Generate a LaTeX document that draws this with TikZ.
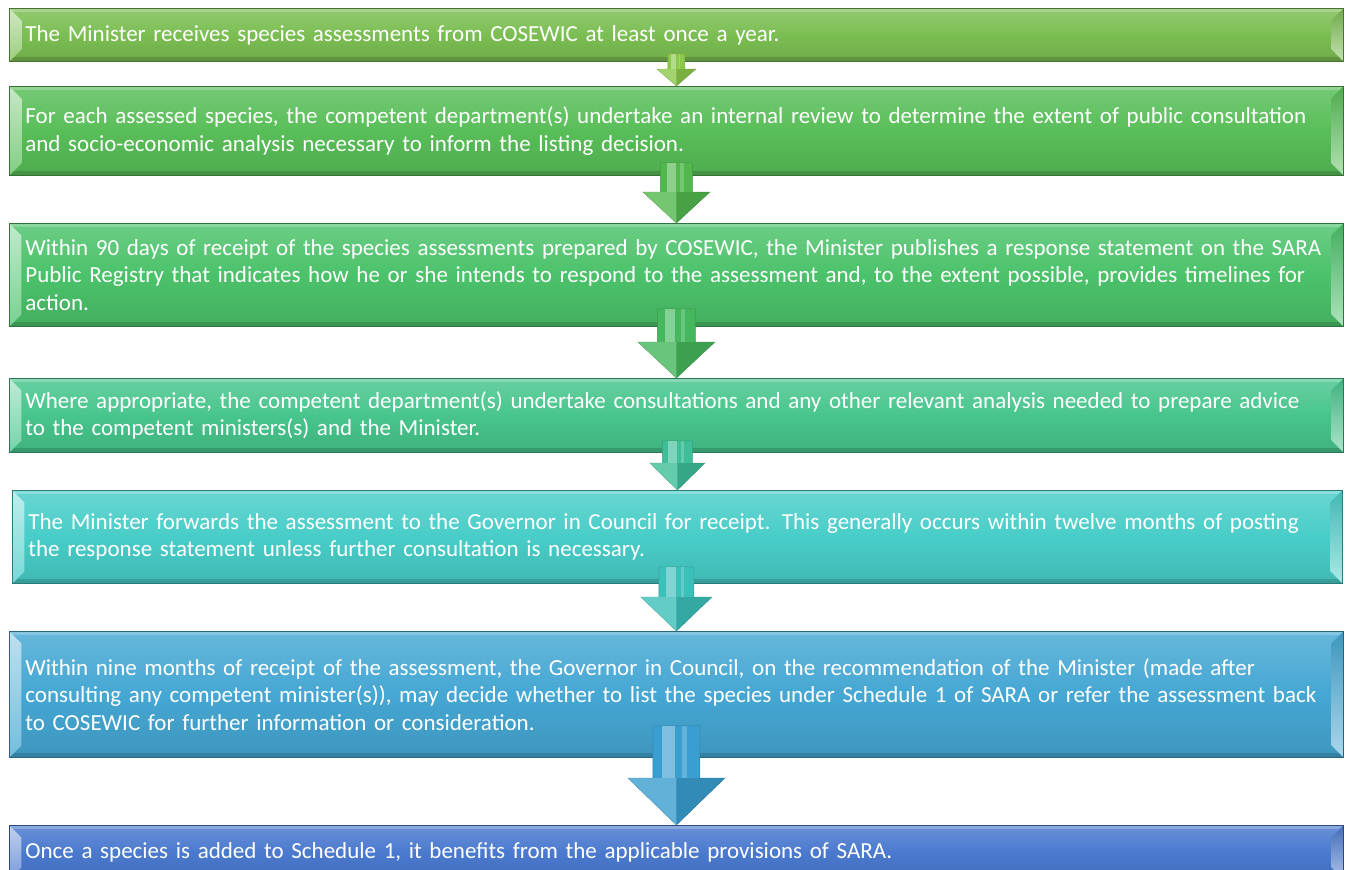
\documentclass[tikz,border=0pt]{standalone}
\usepackage{fontspec}
\setmainfont{Carlito}
\usepackage{xcolor}
\usetikzlibrary{calc}

\definecolor{stageA}{HTML}{7BBE52}
\definecolor{stageB}{HTML}{58BE58}
\definecolor{stageC}{HTML}{4BC26A}
\definecolor{stageD}{HTML}{47C58C}
\definecolor{stageE}{HTML}{48CDC8}
\definecolor{stageF}{HTML}{45A7D3}
\definecolor{stageG}{HTML}{4A79CE}
\definecolor{arrowA}{HTML}{8CC84B}
\definecolor{arrowB}{HTML}{52B84E}
\definecolor{arrowC}{HTML}{45B75C}
\definecolor{arrowD}{HTML}{3EBE99}
\definecolor{arrowE}{HTML}{3CC0BA}
\definecolor{arrowF}{HTML}{3A9ED0}

\tikzset{
  stage/.style={anchor=north west, draw=#1!60!black, line width=0.4pt,
    top color=#1!82!white, bottom color=#1!90!black, middle color=#1,
    text=white, font=\fontsize{11.5}{13.75}\selectfont, align=left,
    inner xsep=8pt, inner ysep=0pt,
    path picture={
      \coordinate (nw) at (path picture bounding box.north west);
      \coordinate (ne) at (path picture bounding box.north east);
      \coordinate (sw) at (path picture bounding box.south west);
      \coordinate (se) at (path picture bounding box.south east);
      \fill[white, opacity=.22] (nw) rectangle ([yshift=-2pt]ne);
      \fill[black, opacity=.15] (sw) rectangle ([yshift=2pt]se);
      \shade[top color=#1!35!white, bottom color=#1!75!white] (nw) -- ([shift={(6pt,-6pt)}]nw) -- ([shift={(6pt,6pt)}]sw) -- (sw) -- cycle;
      \shade[top color=#1!90!black, bottom color=#1!45!white] (ne) -- ([shift={(-6pt,-6pt)}]ne) -- ([shift={(-6pt,6pt)}]se) -- (se) -- cycle;
    }},
}

% from, to, overlap, head length, shaft half width, head half width, colour
\newcommand{\flowarrow}[7]{%
  \coordinate (tip) at (#2.north);
  \coordinate (top) at ($(tip |- #1.south)+(0,-#3)$);
  \coordinate (base) at ($(tip)+(0,-#4)$);
  \filldraw[fill=#7, draw=#7!85!black, line width=0.2pt] ($(top)+(-#5,0)$) -- ($(top)+(#5,0)$) -- ($(base)+(#5,0)$) -- ($(base)+(#6,0)$) -- (tip) -- ($(base)+(-#6,0)$) -- ($(base)+(-#5,0)$) -- cycle;
  \fill[white, opacity=.35] ($(top)+(-0.6*#5,0)$) rectangle ($(base)+(-0.05*#5,0)$);
  \fill[white, opacity=.2] ($(top)+(0.25*#5,0)$) rectangle ($(base)+(0.45*#5,0)$);
  \fill[black, opacity=.12] (base) -- ($(base)+(#6,0)$) -- (tip) -- cycle;
  \fill[white, opacity=.2] ($(base)+(-#6,0)$) -- (base) -- (tip) -- cycle;
}

\begin{document}
\begin{tikzpicture}[x=0.5pt, y=-0.5pt]
\useasboundingbox (0,0) rectangle (1347,869);
\clip (0,0) rectangle (1347,869);

\node[stage=stageA, minimum height=26.5pt, text width=651pt] (receive) at (9,8) {The Minister receives species assessments from COSEWIC at least once a year.};
\node[stage=stageB, minimum height=44.5pt, text width=651pt] (review) at (9,86) {For each assessed species, the competent department(s) undertake an internal review to determine the extent of public consultation\\and socio-economic analysis necessary to inform the listing decision.};
\node[stage=stageC, minimum height=51.5pt, text width=651pt] (response) at (9,223) {Within 90 days of receipt of the species assessments prepared by COSEWIC, the Minister publishes a response statement on the SARA\\Public Registry that indicates how he or she intends to respond to the assessment and, to the extent possible, provides timelines for\\action.};
\node[stage=stageD, minimum height=37pt, text width=651pt] (consult) at (9,378) {Where appropriate, the competent department(s) undertake consultations and any other relevant analysis needed to prepare advice\\to the competent ministers(s) and the Minister.};
\node[stage=stageE, minimum height=46.5pt, text width=649pt] (forward) at (12,490) {The Minister forwards the assessment to the Governor in Council for receipt. This generally occurs within twelve months of posting\\the response statement unless further consultation is necessary.};
\node[stage=stageF, minimum height=63pt, text width=651pt] (decide) at (9,631) {Within nine months of receipt of the assessment, the Governor in Council, on the recommendation of the Minister (made after\\consulting any competent minister(s)), may decide whether to list the species under Schedule 1 of SARA or refer the assessment back\\to COSEWIC for further information or consideration.};
\node[stage=stageG, minimum height=27pt, text width=651pt] (listed) at (9,825) {Once a species is added to Schedule 1, it benefits from the applicable provisions of SARA.};

\flowarrow{receive}{review}{8}{17}{8.5}{19.5}{arrowA}
\flowarrow{review}{response}{13}{31}{16}{33.5}{arrowB}
\flowarrow{response}{consult}{18}{36}{19}{38.5}{arrowC}
\flowarrow{consult}{forward}{12}{27}{15}{27.5}{arrowD}
\flowarrow{forward}{decide}{17}{34}{17.5}{35.5}{arrowE}
\flowarrow{decide}{listed}{32}{47}{23.5}{48.5}{arrowF}
\end{tikzpicture}
\end{document}
